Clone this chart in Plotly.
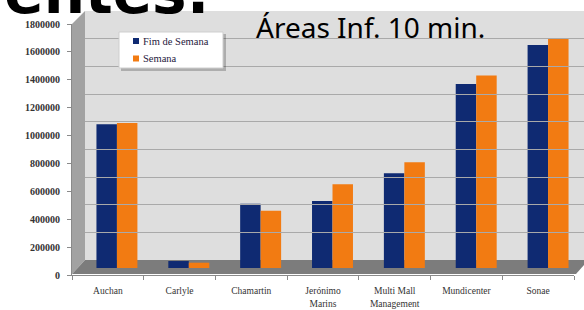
import plotly.graph_objects as go

categories = ["Auchan", "Carlyle", "Chamartin", "Jerónimo<br>Marins",
              "Multi Mall<br>Management", "Mundicenter", "Sonae"]
fim_de_semana = [1030000, 50000, 460000, 480000, 680000, 1320000, 1600000]
semana = [1040000, 38000, 410000, 600000, 758000, 1380000, 1645000]
y_ticks = [0, 200000, 400000, 600000, 800000, 1000000, 1200000, 1400000, 1600000, 1800000]
series_names = ["Fim de Semana", "Semana"]
chart_title = "Áreas Inf. 10 min."
slide_heading = "Clientes:"

W, H = 584, 310
NAVY = "#0f2a72"
ORANGE = "#f27b12"
COLORS = [NAVY, ORANGE]


def px(x):
    return x / W


def py(y):
    return 1 - y / H


def path(points):
    return "M " + " L ".join(f"{px(x):.5f},{py(y):.5f}" for x, y in points) + " Z"


fig = go.Figure()

# invisible anchor trace so the front category axis gets its categories
fig.add_trace(go.Scatter(x=categories, y=[0] * len(categories), mode="markers",
                         marker=dict(opacity=0), showlegend=False, hoverinfo="skip",
                         xaxis="x", yaxis="y"))

for name, vals, col in zip(series_names, [fim_de_semana, semana], COLORS):
    fig.add_trace(go.Bar(x=categories, y=vals, name=name,
                         marker=dict(color=col, line=dict(width=0)),
                         showlegend=False, xaxis="x2", yaxis="y2"))

# grid-only subplot for the back wall gridlines
fig.add_trace(go.Scatter(x=[0.5], y=[0], mode="markers", marker=dict(opacity=0),
                         showlegend=False, hoverinfo="skip", xaxis="x3", yaxis="y3"))

# 3D-like scenery: back wall, left wall, floor
shapes = [
    dict(type="rect", xref="paper", yref="paper", x0=px(85), x1=px(584), y0=py(260), y1=py(11),
         fillcolor="#dedede", line=dict(width=0), layer="below"),
    dict(type="path", xref="paper", yref="paper",
         path=path([(72, 24), (85, 11), (85, 260), (72, 274)]),
         fillcolor="#a2a2a2", line=dict(width=0), layer="below"),
    dict(type="path", xref="paper", yref="paper",
         path=path([(72, 274), (85, 260), (584, 260), (584, 265), (576, 274)]),
         fillcolor="#7c7c7c", line=dict(width=0), layer="below"),
    # legend box with shadow
    dict(type="rect", xref="paper", yref="paper", x0=px(121), x1=px(226), y0=py(71), y1=py(34),
         fillcolor="rgba(0,0,0,0.22)", line=dict(width=0), layer="above"),
    dict(type="rect", xref="paper", yref="paper", x0=px(119), x1=px(223), y0=py(68), y1=py(32),
         fillcolor="white", line=dict(color="#cfcfcf", width=1), layer="above"),
]

annotations = [
    dict(text=chart_title, xref="paper", yref="paper", x=px(370), y=py(27),
         xanchor="center", yanchor="middle", showarrow=False,
         font=dict(family="Noto Sans", size=28, color="black")),
    dict(text=slide_heading, xref="paper", yref="paper", x=px(212), y=py(29),
         xanchor="right", yanchor="bottom", showarrow=False,
         font=dict(family="DejaVu Sans", size=58, color="black", weight="bold")),
]

# hand-built legend entries
legend_rows = [41, 58.5]
for name, col, yc in zip(series_names, COLORS, legend_rows):
    shapes.append(dict(type="rect", xref="paper", yref="paper",
                       x0=px(133), x1=px(139), y0=py(yc + 3), y1=py(yc - 3),
                       fillcolor=col, line=dict(width=0), layer="above"))
    annotations.append(dict(text=name, xref="paper", yref="paper", x=px(141), y=py(yc),
                            xanchor="left", yanchor="middle", showarrow=False,
                            font=dict(family="Liberation Serif", size=10.5, color="#1f2040")))

fig.update_layout(
    width=W, height=H,
    margin=dict(l=0, r=0, t=0, b=0, autoexpand=False),
    paper_bgcolor="white",
    plot_bgcolor="rgba(0,0,0,0)",
    barmode="group",
    bargap=0.43,
    bargroupgap=0,
    showlegend=False,
    xaxis=dict(domain=[px(72), px(574)], anchor="y", type="category", automargin=False,
               categoryorder="array", categoryarray=categories, range=[-0.5, 6.5],
               tickson="boundaries", ticks="outside", ticklen=4, tickcolor="#8a8a8a",
               ticklabelstandoff=7,
               showline=True, linecolor="#8a8a8a", linewidth=1, showgrid=False,
               tickfont=dict(family="Liberation Serif", size=9.5, color="#333333"),
               fixedrange=True),
    yaxis=dict(domain=[py(275), py(24)], anchor="x", range=[0, 1800000], automargin=False,
               tickvals=y_ticks, ticktext=[str(v) for v in y_ticks],
               ticks="outside", ticklen=4, tickcolor="#8a8a8a", ticklabelstandoff=5,
               showline=True, linecolor="#8a8a8a", showgrid=False, zeroline=False,
               tickfont=dict(family="Liberation Serif", size=10, color="#333333", weight="bold"),
               fixedrange=True),
    xaxis2=dict(domain=[px(81), 1.0], anchor="y2", type="category", automargin=False,
                categoryorder="array", categoryarray=categories, range=[-0.5, 6.5],
                visible=False, fixedrange=True),
    yaxis2=dict(domain=[py(268), py(17)], anchor="x2", range=[0, 1800000], automargin=False,
                visible=False, fixedrange=True),
    xaxis3=dict(domain=[px(85), 1.0], anchor="y3", range=[0, 1], automargin=False,
                visible=True, showticklabels=False, showline=False, ticks="",
                showgrid=False, zeroline=False, fixedrange=True),
    yaxis3=dict(domain=[py(260), py(11)], anchor="x3", range=[0, 1800000], automargin=False,
                tickvals=y_ticks, showticklabels=False, ticks="", showline=False,
                showgrid=True, gridcolor="#a9a9a9", gridwidth=1, zeroline=False,
                fixedrange=True),
    shapes=shapes,
    annotations=annotations,
)

fig.write_html("out.html", config={"displayModeBar": False, "staticPlot": True},
               post_script="document.body.style.margin='0';document.body.style.overflow='hidden';")
